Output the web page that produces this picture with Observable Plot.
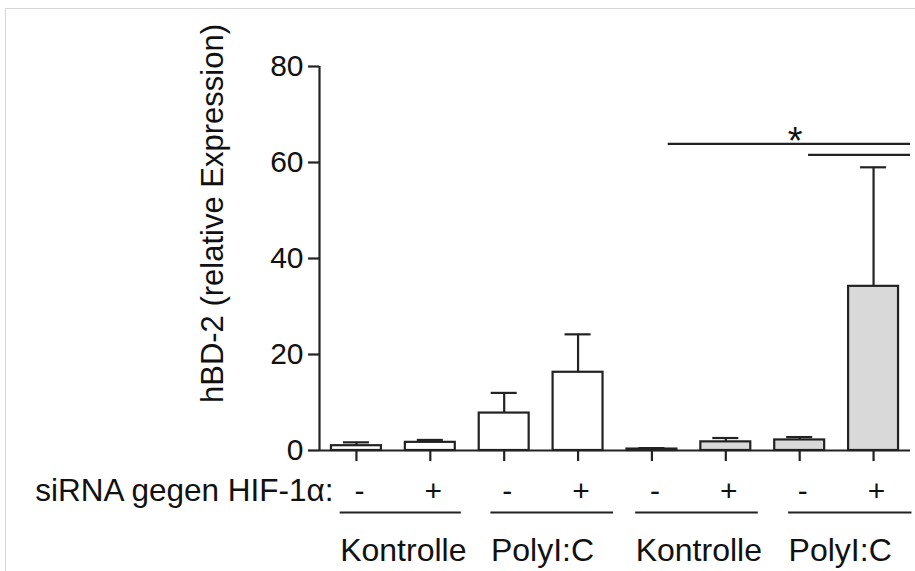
<!DOCTYPE html>
<html>
<head>
<meta charset="utf-8">
<script src="https://cdn.jsdelivr.net/npm/d3@7"></script>
<script src="https://cdn.jsdelivr.net/npm/@observablehq/plot@0.6"></script>
<style>
  html, body { margin: 0; padding: 0; background: #fff; }
  #wrap { position: relative; width: 915px; height: 571px; overflow: hidden; }
  #edge { position: absolute; left: 5px; top: 8px; right: 0; bottom: 0;
          border-left: 1px solid #d6d6d6; border-top: 1px solid #d6d6d6; pointer-events: none; }
  #chart { position: absolute; left: 0; top: 0; }
</style>
</head>
<body>
<div id="wrap"><div id="chart"></div><div id="edge"></div></div>
<script>
// ---- data ----
const positions = [1, 2, 3, 4, 5, 6, 7, 8];
const groups    = ["Kontrolle", "Kontrolle", "PolyI:C", "PolyI:C", "Kontrolle", "Kontrolle", "PolyI:C", "PolyI:C"];
const sirna     = ["-", "+", "-", "+", "-", "+", "-", "+"];
const series    = ["A", "A", "A", "A", "B", "B", "B", "B"];
const means     = [1.0, 1.7, 7.8, 16.3, 0.3, 1.8, 2.2, 34.2];
const sds       = [0.7, 0.5, 4.2, 7.9, 0.2, 0.8, 0.6, 24.8];

const groupLabels = ["Kontrolle", "PolyI:C", "Kontrolle", "PolyI:C"];
const groupStart  = [0.78, 2.82, 4.78, 6.85];
const groupEnd    = [2.42, 4.48, 6.44, 8.52];

const sigStart = [5.22, 7.12];
const sigEnd   = [8.5, 8.5];
const sigY     = [63.9, 61.6];
const sigStarX = [6.94];
const sigStarLabel = ["*"];

const yTicks = [0, 20, 40, 60, 80];
const xDomain = [0.5, 8.5];
const yDomain = [0, 80];
const rowLabel = "siRNA gegen HIF-1α:";
const yLabel = "hBD-2 (relative Expression)";

// ---- tables built from the arrays ----
const data = positions.map((x, i) => ({
  x, group: groups[i], sirna: sirna[i], series: series[i], mean: means[i], sd: sds[i], top: means[i] + sds[i]
}));
const groupRows = groupLabels.map((g, i) => ({label: g, x1: groupStart[i], x2: groupEnd[i]}));
const sigRows = sigStart.map((s, i) => ({x1: s, x2: sigEnd[i], y: sigY[i]}));
const starRows = sigStarX.map((x, i) => ({x, y: sigY[0], label: sigStarLabel[i]}));

const barHalf = 0.338, capHalf = 0.176;
const ink = "#222";

const chart = Plot.plot({
  width: 915,
  height: 571,
  marginLeft: 319,
  marginRight: 5,
  marginTop: 66,
  marginBottom: 121,
  style: {fontFamily: "'Liberation Sans', Arial, sans-serif", fontSize: "30px", color: "#111", background: "transparent"},
  x: {type: "linear", domain: xDomain},
  y: {domain: yDomain},
  color: {domain: ["A", "B"], range: ["#ffffff", "#d9d9d9"]},
  marks: [
    // bars
    Plot.rectY(data, {x1: d => d.x - barHalf, x2: d => d.x + barHalf, y1: 0, y2: "mean",
                      fill: "series", stroke: ink, strokeWidth: 2.2}),
    // error bars
    Plot.ruleX(data, {x: "x", y1: "mean", y2: "top", stroke: ink, strokeWidth: 2.2}),
    Plot.ruleY(data, {y: "top", x1: d => d.x - capHalf, x2: d => d.x + capHalf, stroke: ink, strokeWidth: 2.2}),
    // axes lines
    Plot.ruleX([xDomain[0]], {y1: yDomain[0], y2: yDomain[1], stroke: ink, strokeWidth: 2.2}),
    Plot.ruleY([0], {x1: xDomain[0], x2: xDomain[1], stroke: ink, strokeWidth: 2.2}),
    Plot.axisY({ticks: yTicks, tickSize: 11, tickPadding: 5, fontSize: 30, label: null, stroke: ink, strokeWidth: 2.2, fill: "#111"}),
    Plot.axisX({ticks: positions, tickSize: 11, tickFormat: () => "", label: null, stroke: ink, strokeWidth: 2.2}),
    // significance
    Plot.ruleY(sigRows, {y: "y", x1: "x1", x2: "x2", stroke: ink, strokeWidth: 2.2}),
    Plot.text(starRows, {x: "x", y: "y", text: "label", lineAnchor: "bottom", dy: 10, fontSize: 38, fill: "#111"}),
    // siRNA row
    Plot.text(data, {x: "x", text: "sirna", frameAnchor: "bottom", lineAnchor: "bottom", dy: 50, dx: 3, fontSize: 30, fill: "#111"}),
    Plot.text([rowLabel], {frameAnchor: "bottom-left", textAnchor: "end", lineAnchor: "bottom", dx: 14, dy: 50, fontSize: 31.5, fill: "#111"}),
    // group underlines and labels
    Plot.ruleY(groupRows, {x1: "x1", x2: "x2", y: 0, dy: 62, stroke: ink, strokeWidth: 2.2}),
    Plot.text(groupRows, {x: "x1", text: "label", frameAnchor: "bottom", textAnchor: "start", lineAnchor: "bottom", dy: 110, fontSize: 32, fill: "#111"}),
    // y label
    Plot.text([yLabel], {frameAnchor: "left", textAnchor: "middle", lineAnchor: "middle", rotate: -90, dx: -106, dy: -45, fontSize: 31, fill: "#111"})
  ]
});
document.getElementById("chart").appendChild(chart);
</script>
</body>
</html>
